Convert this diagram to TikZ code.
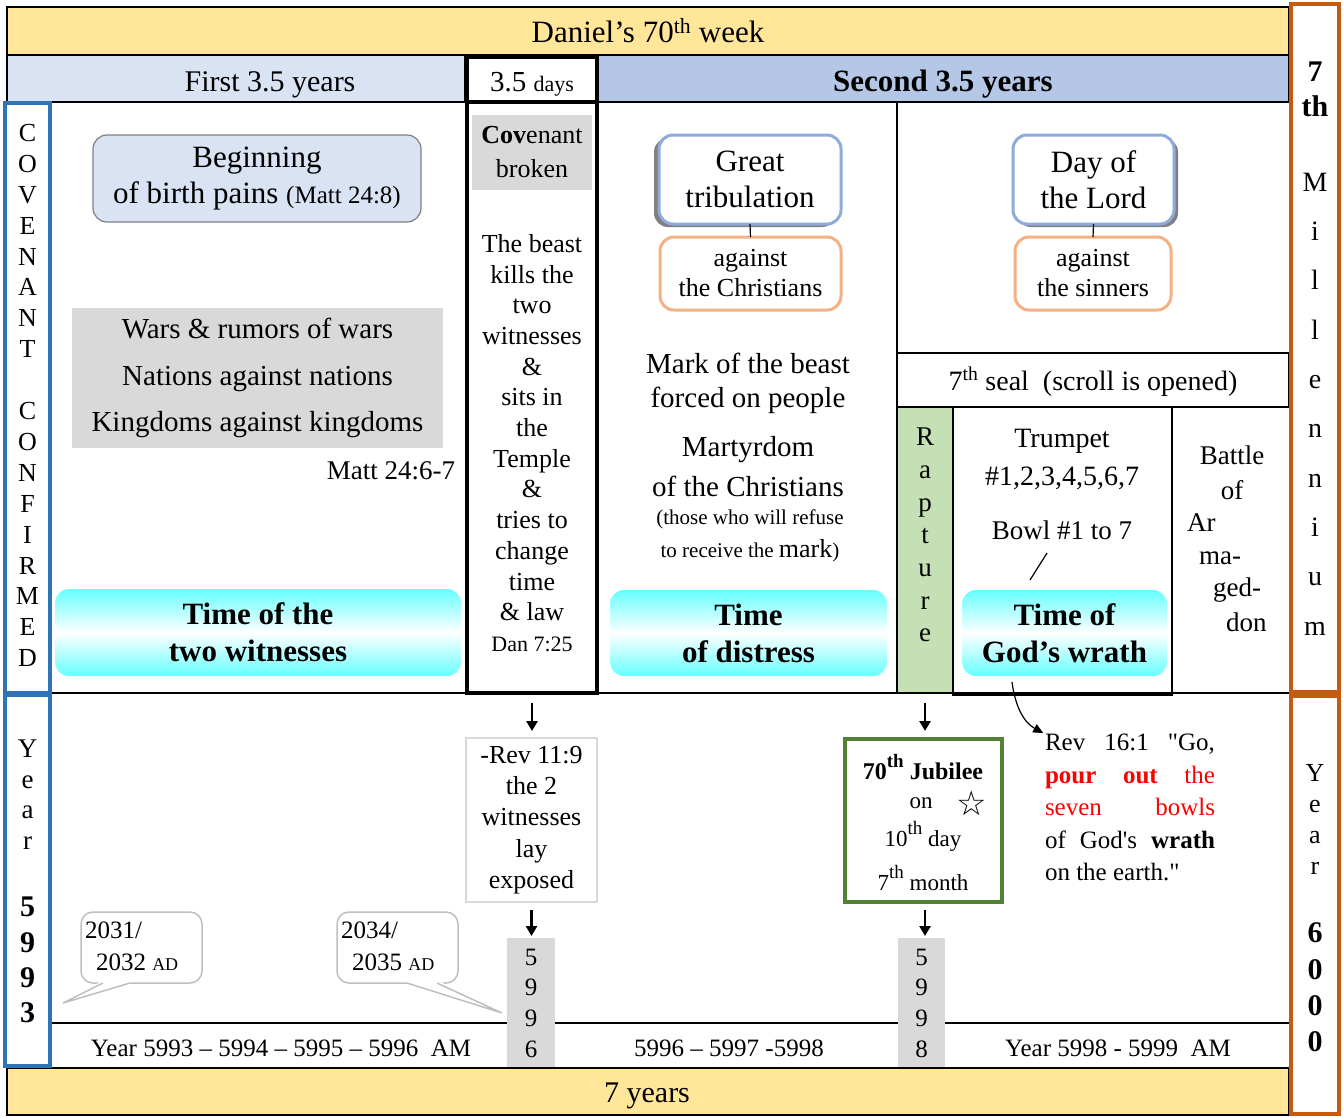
\documentclass[tikz,border=0pt]{standalone}
\usepackage{fontspec}
\setmainfont{Liberation Serif}
\newfontfamily\revfont{Liberation Serif}
\newfontfamily\symfont{DejaVu Sans}
\usetikzlibrary{arrows.meta,shadows}
\definecolor{ylw}{HTML}{FFE699}
\definecolor{lblue}{HTML}{DAE3F3}
\definecolor{mblue}{HTML}{B4C7E7}
\definecolor{bborder}{HTML}{2E75B6}
\definecolor{orng}{HTML}{C55A11}
\definecolor{gry}{HTML}{D9D9D9}
\definecolor{grn}{HTML}{C5E0B4}
\definecolor{dgrn}{HTML}{548235}
\definecolor{cyn}{HTML}{66FFFF}
\definecolor{boxblue}{HTML}{8FAADC}
\definecolor{boxorange}{HTML}{F4B183}
\definecolor{shgray}{HTML}{808080}
\definecolor{bubgray}{HTML}{BFBFBF}
\definecolor{redtxt}{HTML}{FF0000}
\newcommand\fsz[2]{\fontsize{#1pt}{#2pt}\selectfont}
\newcommand\bigsup[1]{\raisebox{0.5em}{\fsz{19}{19}#1}}
\begin{document}
\begin{tikzpicture}[x=1pt,y=-1pt,
  cellbox/.style={draw=black, line width=1.2pt, inner sep=0pt, outer sep=0pt, anchor=north west, align=center},
  plainbox/.style={inner sep=0pt, outer sep=0pt, anchor=north west, align=center},
  lbl/.style={inner sep=0pt, outer sep=0pt, align=center},
  rbox/.style={rounded corners=14pt, inner sep=0pt, outer sep=0pt, anchor=north west, align=center},
  glow/.style={rbox, top color=cyn, bottom color=cyn, middle color=white, font=\bfseries\fsz{31}{37}},
  bluebox/.style={rbox, draw=boxblue, line width=3pt, fill=white, font=\fsz{31}{36}},
  orangebox/.style={rbox, draw=boxorange, line width=3pt, fill=white, font=\fsz{26}{30}},
  arr/.style={-{Triangle[length=10pt,width=11pt]}, line width=2.5pt},
  bubble/.style={rbox, rounded corners=12pt, draw=bubgray, line width=1.5pt, fill=white},
  thinline/.style={line width=1.2pt},
]
\useasboundingbox (0,0) rectangle (1343,1117);
\fill[white] (0,0) rectangle (1343,1117);

% ---------- top rows
\node[cellbox, fill=ylw, minimum width=1282pt, minimum height=48pt, font=\fsz{31}{36}] (daniel) at (7,7) {Daniel’s 70\textsuperscript{th} week};
\node[cellbox, fill=lblue, minimum width=458pt, minimum height=47pt] (first) at (7,55) {};
\node[lbl, anchor=base, font=\fsz{30}{36}] (firsttxt) at (270,91) {First 3.5 years};
\node[cellbox, fill=mblue, minimum width=691pt, minimum height=47pt] (second) at (598,55) {};
\node[lbl, anchor=base, font=\bfseries\fsz{31}{36}] (secondtxt) at (943,91) {Second 3.5 years};

% ---------- main grid
\draw[line width=1.5pt] (50,693) -- (1289,693);
\draw[thinline] (897,102) -- (897,353);
\node[cellbox, minimum width=392pt, minimum height=54pt] (seal) at (897,353) {};
\node[lbl, anchor=base, font=\fsz{28}{34}] (sealtxt) at (1093,390) {7\textsuperscript{th} seal\ \ (scroll is opened)};
\node[cellbox, fill=grn, minimum width=56pt, minimum height=286pt] (rapture) at (897,407) {};
\node[lbl, font=\fsz{27}{32.7}] (rapturetxt) at (925,535) {R\\a\\p\\t\\u\\r\\e};
\node[cellbox, minimum width=219pt, minimum height=288pt] (trumpet) at (953,407) {};
\node[lbl, font=\fsz{28}{38}] (trumpettxt) at (1062,459) {Trumpet\\\#1,2,3,4,5,6,7};
\node[lbl, font=\fsz{27}{32}] (bowltxt) at (1062,530) {Bowl \#1 to 7};
\node[lbl, anchor=base, font=\fsz{27}{32}] (bat1) at (1232,464) {Battle};
\node[lbl, anchor=base, font=\fsz{27}{32}] (bat2) at (1232,499) {of};
\node[lbl, anchor=base west, font=\fsz{27}{32}] (bat3) at (1187,531) {Ar};
\node[lbl, anchor=base west, font=\fsz{27}{32}] (bat4) at (1199,564) {ma-};
\node[lbl, anchor=base west, font=\fsz{27}{32}] (bat5) at (1213,596) {ged-};
\node[lbl, anchor=base west, font=\fsz{27}{32}] (bat6) at (1226,631) {don};

% ---------- centre column
\node[cellbox, line width=4.5pt, minimum width=130pt, minimum height=636pt] (centercol) at (467,57) {};
\node[cellbox, line width=4.5pt, fill=white, minimum width=130pt, minimum height=45pt] (days) at (467,57) {};
\node[lbl, anchor=base] (daystxt) at (532,91) {\fsz{29}{34}3.5 \fsz{22}{34}days};
\node[plainbox, fill=gry, minimum width=120pt, minimum height=75pt, font=\fsz{26}{34}] (covbroken) at (472,115) {\textbf{Cov}enant\\broken};
\node[lbl, font=\fsz{26}{30.7}] (beasttxt) at (532,443) {The beast\\kills the\\two\\witnesses\\\&\\sits in\\the\\Temple\\\&\\tries to\\change\\time\\\& law\\{\fsz{22}{30.7}Dan 7:25}};

% ---------- first half
\node[rbox, fill=lblue, draw=gray, line width=1.2pt, minimum width=328pt, minimum height=87pt, font=\fsz{31}{36}] (begin) at (93,135) {Beginning\\of birth pains {\fsz{25}{36}(Matt 24:8)}};
\node[plainbox, fill=gry, minimum width=371pt, minimum height=140pt, font=\fsz{29}{46.5}] (wars) at (72,308) {Wars \& rumors of wars\\Nations against nations\\Kingdoms against kingdoms};
\node[lbl, anchor=base east, font=\fsz{27}{32}] (matt) at (455,479) {Matt 24:6-7};
\node[glow, minimum width=406pt, minimum height=87pt] (twowit) at (55,589) {Time of the\\two witnesses};

% ---------- second half
\node[bluebox, drop shadow={shadow xshift=-5pt, shadow yshift=-3pt, fill=shgray, opacity=1}, minimum width=182pt, minimum height=89pt] (great) at (659,135) {Great\\tribulation};
\node[orangebox, minimum width=181pt, minimum height=73pt] (againstC) at (660,237) {against\\the Christians};
\draw[thinline] (great.south) -- (againstC.north);
\node[bluebox, drop shadow={shadow xshift=4pt, shadow yshift=-3pt, fill=shgray, opacity=1}, minimum width=161pt, minimum height=89pt] (day) at (1013,135) {Day of\\the Lord};
\node[orangebox, minimum width=156pt, minimum height=73pt] (againstS) at (1015,237) {against\\the sinners};
\draw[thinline] (day.south) -- (againstS.north);
\node[lbl, font=\fsz{29}{34}] (marktxt) at (748,383) {Mark of the beast\\forced on people};
\node[lbl, font=\fsz{29}{40}] (martyr) at (748,467) {Martyrdom\\of the Christians};
\node[lbl, font=\fsz{21}{33}] (refuse) at (750,536) {(those who will refuse\\to receive the {\fsz{26}{33}mark})};
\node[glow, minimum width=277pt, minimum height=86pt] (distress) at (610,590) {Time\\of distress};
\node[glow, minimum width=205pt, minimum height=86pt] (wrath) at (962,590) {Time of\\God’s wrath};
\coordinate (slashtop) at (1047,553);
\coordinate (slashbot) at (1030,580);
\draw[thinline] (slashtop) -- (slashbot);

% ---------- lower area
\draw[line width=2.5pt] (50,1023) -- (1289,1023);
\node[plainbox, fill=gry, minimum width=48pt, minimum height=130pt, font=\fsz{25}{30.7}] (c5996) at (507,938) {5\\9\\9\\6};
\node[plainbox, fill=gry, minimum width=47pt, minimum height=130pt, font=\fsz{25}{30.7}] (c5998) at (898,938) {5\\9\\9\\8};
\node[lbl, anchor=base, font=\fsz{25}{30}] (yrrow1) at (281,1056) {Year 5993 -- 5994 -- 5995 -- 5996\ \ AM};
\node[lbl, anchor=base, font=\fsz{25}{30}] (yrrow2) at (729,1056) {5996 -- 5997 -5998};
\node[lbl, anchor=base, font=\fsz{25}{30}] (yrrow3) at (1118,1056) {Year 5998 - 5999\ \ AM};
\node[cellbox, fill=ylw, minimum width=1282pt, minimum height=47pt] (seven) at (7,1068) {};
\node[lbl, anchor=base, font=\fsz{30}{36}] (seventxt) at (647,1102) {7 years};

\node[cellbox, draw=gry, line width=2pt, fill=white, minimum width=131pt, minimum height=164pt, font=\fsz{26}{31.3}] (rev119) at (466,738) {-Rev 11:9\\the 2\\witnesses\\lay\\exposed};
\draw[arr, shorten <=10pt, shorten >=7pt] (centercol.south) -- (centercol.south |- rev119.north);
\draw[arr, shorten <=8pt, shorten >=2pt] (rev119.south) -- (rev119.south |- c5996.north);

\node[cellbox, draw=dgrn, line width=4pt, minimum width=157pt, minimum height=163pt] (jubilee) at (845,739) {};
\node[lbl, anchor=base, font=\bfseries\fsz{24}{28}] (jub1) at (923,779) {70\bigsup{\bfseries th} Jubilee};
\node[lbl, anchor=base, font=\fsz{23}{28}] (jub2) at (921,808) {on};
\node[lbl, anchor=base, font=\symfont\fsz{34}{34}] (star) at (972,815) {☆};
\node[lbl, anchor=base, font=\fsz{23}{28}] (jub3) at (923,846) {10\bigsup{th} day};
\node[lbl, anchor=base, font=\fsz{23}{28}] (jub4) at (923,890) {7\bigsup{th} month};
\draw[arr, shorten <=10pt, shorten >=8pt] (rapture.south) -- (rapture.south |- jubilee.north);
\draw[arr, shorten <=8pt, shorten >=2pt] (rapture.south |- jubilee.south) -- (rapture.south |- c5998.north);

\node[inner sep=0pt, outer sep=0pt, anchor=north west, align=left, font=\revfont\fsz{25}{32.5}] (revtxt) at (1045,734) {\makebox[170pt][s]{Rev 16:1 "Go,}\\\makebox[170pt][s]{\color{redtxt}\textbf{pour out} the}\\\makebox[170pt][s]{\color{redtxt}seven bowls}\\\makebox[170pt][s]{of God's \textbf{wrath}}\\on the earth."};
\coordinate (wstart) at (1012,682);
\draw[-{Triangle[length=10pt,width=9pt]}, line width=1.2pt, shorten >=2pt] (wstart) .. controls (1015,705) and (1023,722) .. (revtxt.north west);

% ---------- callouts
\node[bubble, minimum width=121pt, minimum height=71pt] (bub1) at (81,912) {};
\coordinate (bub1tip) at (63,1003);
\fill[white] (101,981.5) -- (bub1tip) -- (133,981.5) -- cycle;
\draw[bubgray, line width=1.5pt] (103,983) -- (bub1tip) -- (130,983);
\node[lbl, align=left, anchor=west, font=\fsz{25}{32}] (bub1txt) at (85,946) {2031/\\\hspace*{11pt}2032 {\fsz{18}{32}AD}};
\node[bubble, minimum width=121pt, minimum height=71pt] (bub2) at (337,912) {};
\coordinate (bub2tip) at (502,1013);
\fill[white] (404,981.5) -- (bub2tip) -- (440,981.5) -- cycle;
\draw[bubgray, line width=1.5pt] (407,983) -- (bub2tip) -- (437,983);
\node[lbl, align=left, anchor=west, font=\fsz{25}{32}] (bub2txt) at (341,946) {2034/\\\hspace*{11pt}2035 {\fsz{18}{32}AD}};

% ---------- side columns
\node[cellbox, draw=bborder, line width=3.5pt, minimum width=45pt, minimum height=590pt] (cov) at (5,103) {};
\node[lbl, font=\fsz{26}{30.9}] (covtxt) at (27.5,395.5) {C\\O\\V\\E\\N\\A\\N\\T\\[30.9pt]C\\O\\N\\F\\I\\R\\M\\E\\D};
\node[cellbox, draw=bborder, line width=3.5pt, minimum width=45pt, minimum height=371pt] (yr1) at (5,695) {};
\node[lbl, font=\fsz{27}{30.7}] (yr1a) at (27.5,794.5) {Y\\e\\a\\r};
\node[lbl, font=\bfseries\fsz{30}{35.3}] (yr1b) at (27.5,960) {5\\9\\9\\3};
\node[cellbox, draw=orng, line width=4pt, minimum width=48pt, minimum height=688pt] (mill) at (1291,4) {};
\node[lbl, font=\bfseries\fsz{30}{35}] (mill7) at (1315,89.5) {7\\th};
\node[lbl, font=\fsz{28}{49.3}] (milltxt) at (1315,404) {M\\i\\l\\l\\e\\n\\n\\i\\u\\m};
\node[cellbox, draw=orng, line width=4pt, minimum width=48pt, minimum height=418pt] (yr2) at (1291,696) {};
\node[lbl, font=\fsz{26}{30.7}] (yr2a) at (1315,819.5) {Y\\e\\a\\r};
\node[lbl, font=\bfseries\fsz{30}{36.3}] (yr2b) at (1315,987.5) {6\\0\\0\\0};
\end{tikzpicture}
\end{document}
